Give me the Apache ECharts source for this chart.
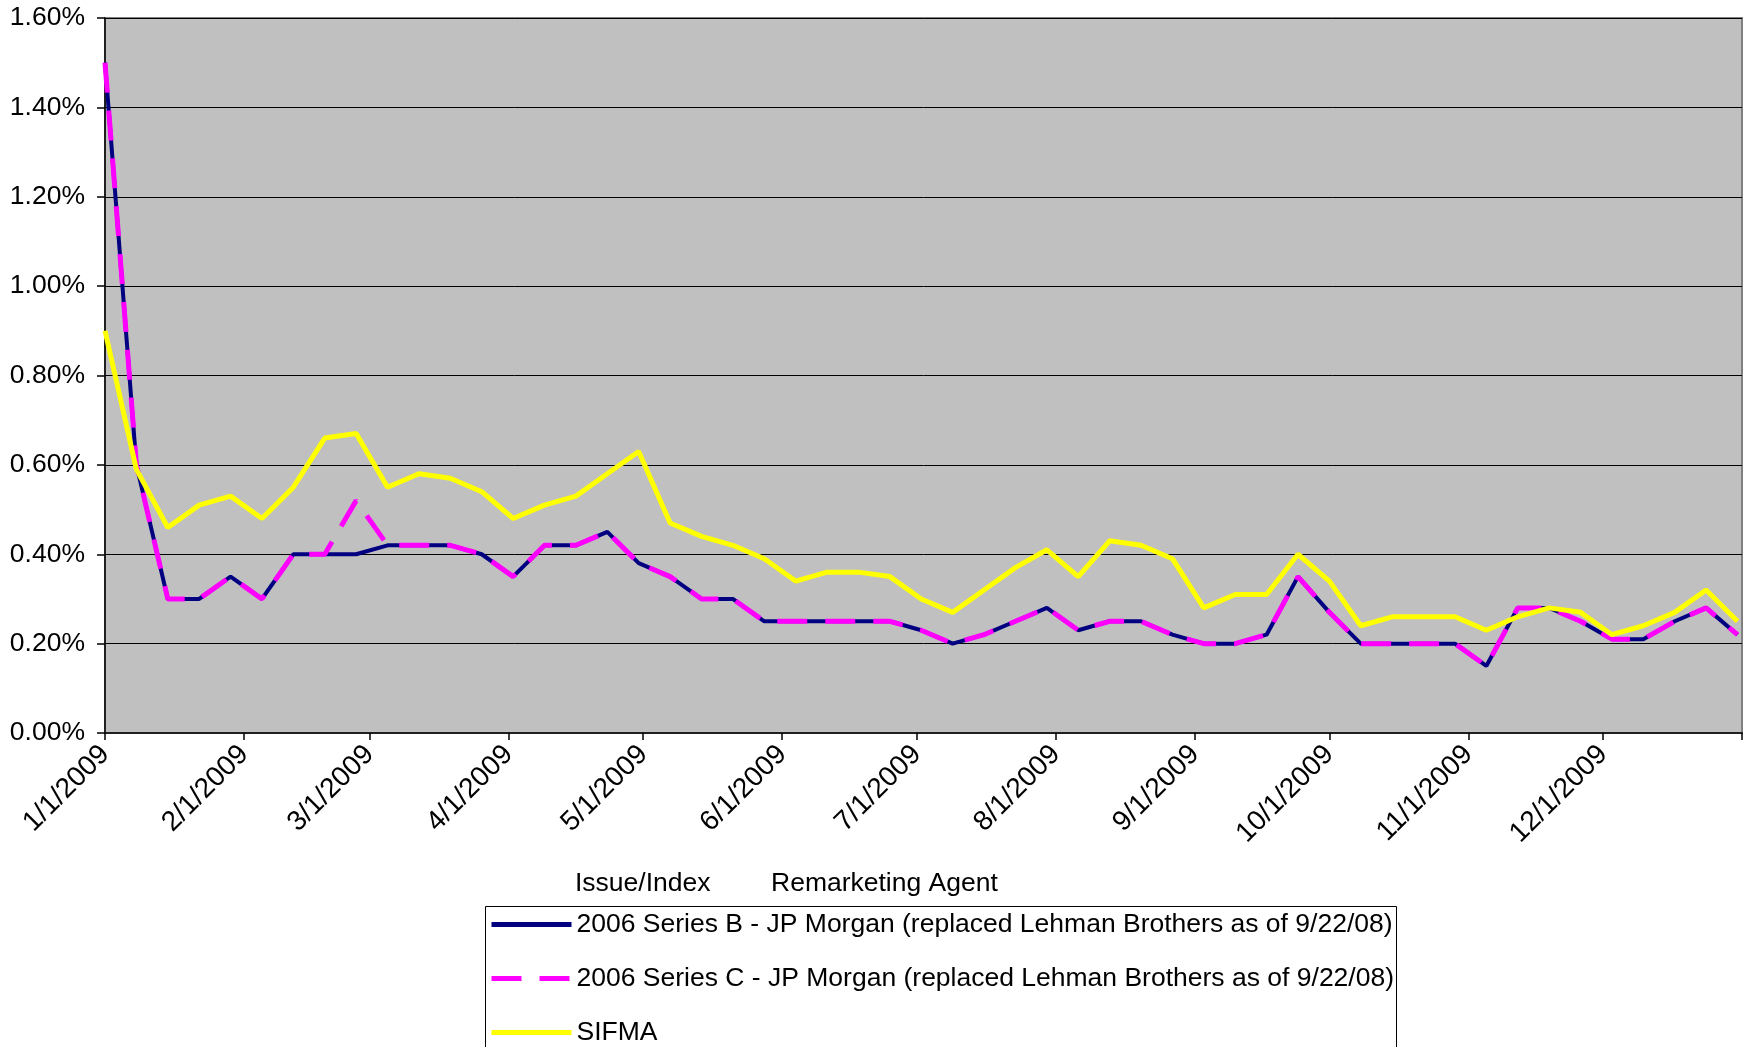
<!DOCTYPE html>
<html>
<head>
<meta charset="utf-8">
<title>Remarketing rates 2009</title>
<script src="https://cdn.jsdelivr.net/npm/echarts@6/dist/echarts.min.js"></script>
<style>
  html, body { margin: 0; padding: 0; background: #ffffff; }
  #main { width: 1745px; height: 1047px; }
</style>
</head>
<body>
<div id="main"></div>
<script>
// weekly reset dates (Thursdays), 2009
var dates = [
  "2009-01-01", "2009-01-08", "2009-01-15", "2009-01-22", "2009-01-29",
  "2009-02-05", "2009-02-12", "2009-02-19", "2009-02-26",
  "2009-03-05", "2009-03-12", "2009-03-19", "2009-03-26",
  "2009-04-02", "2009-04-09", "2009-04-16", "2009-04-23", "2009-04-30",
  "2009-05-07", "2009-05-14", "2009-05-21", "2009-05-28",
  "2009-06-04", "2009-06-11", "2009-06-18", "2009-06-25",
  "2009-07-02", "2009-07-09", "2009-07-16", "2009-07-23", "2009-07-30",
  "2009-08-06", "2009-08-13", "2009-08-20", "2009-08-27",
  "2009-09-03", "2009-09-10", "2009-09-17", "2009-09-24",
  "2009-10-01", "2009-10-08", "2009-10-15", "2009-10-22", "2009-10-29",
  "2009-11-05", "2009-11-12", "2009-11-19", "2009-11-26",
  "2009-12-03", "2009-12-10", "2009-12-17", "2009-12-24", "2009-12-31"
];

// rates in percent
var seriesB = [
  1.50, 0.60, 0.30, 0.30, 0.35,
  0.30, 0.40, 0.40, 0.40,
  0.42, 0.42, 0.42, 0.40,
  0.35, 0.42, 0.42, 0.45, 0.38,
  0.35, 0.30, 0.30, 0.25,
  0.25, 0.25, 0.25, 0.25,
  0.23, 0.20, 0.22, 0.25, 0.28,
  0.23, 0.25, 0.25, 0.22,
  0.20, 0.20, 0.22, 0.35,
  0.27, 0.20, 0.20, 0.20, 0.20,
  0.15, 0.28, 0.28, 0.25,
  0.21, 0.21, 0.25, 0.28, 0.22
];
var seriesC = [
  1.50, 0.60, 0.30, 0.30, 0.35,
  0.30, 0.40, 0.40, 0.52,
  0.42, 0.42, 0.42, 0.40,
  0.35, 0.42, 0.42, 0.45, 0.38,
  0.35, 0.30, 0.30, 0.25,
  0.25, 0.25, 0.25, 0.25,
  0.23, 0.20, 0.22, 0.25, 0.28,
  0.23, 0.25, 0.25, 0.22,
  0.20, 0.20, 0.22, 0.35,
  0.27, 0.20, 0.20, 0.20, 0.20,
  0.15, 0.28, 0.28, 0.25,
  0.21, 0.21, 0.25, 0.28, 0.22
];
var sifma = [
  0.90, 0.59, 0.46, 0.51, 0.53,
  0.48, 0.55, 0.66, 0.67,
  0.55, 0.58, 0.57, 0.54,
  0.48, 0.51, 0.53, 0.58, 0.63,
  0.47, 0.44, 0.42, 0.39,
  0.34, 0.36, 0.36, 0.35,
  0.30, 0.27, 0.32, 0.37, 0.41,
  0.35, 0.43, 0.42, 0.39,
  0.28, 0.31, 0.31, 0.40,
  0.34, 0.24, 0.26, 0.26, 0.26,
  0.23, 0.26, 0.28, 0.27,
  0.22, 0.24, 0.27, 0.32, 0.25
];

var seriesNames = [
  "2006 Series B - JP Morgan (replaced Lehman Brothers as of 9/22/08)",
  "2006 Series C - JP Morgan (replaced Lehman Brothers as of 9/22/08)",
  "SIFMA"
];

// x axis ticks on the first of each month; the axis ends on 1/1/2010 (tick, no label)
var monthStarts = [
  "2009-01-01", "2009-02-01", "2009-03-01", "2009-04-01", "2009-05-01", "2009-06-01",
  "2009-07-01", "2009-08-01", "2009-09-01", "2009-10-01", "2009-11-01", "2009-12-01"
];
var axisEnd = "2010-01-01";

var DAY = 86400000;
var base = Date.UTC(2009, 0, 1);
// x is "days since 1/1/2009"
function day(s) {
  var p = s.split("-");
  return Math.round((Date.UTC(+p[0], +p[1] - 1, +p[2]) - base) / DAY);
}
function pairs(vals) {
  return vals.map(function (v, i) { return [day(dates[i]), v]; });
}

var FONT = "'Liberation Sans', Arial, sans-serif";
var FS = 26.5;
var myChart = echarts.init(document.getElementById("main"));

myChart.setOption({
  animation: false,
  backgroundColor: "#ffffff",
  textStyle: { fontFamily: FONT, color: "#000" },
  grid: {
    left: 105,
    right: 3,
    top: 18,
    bottom: 314,
    show: true,
    backgroundColor: "#c0c0c0",
    borderColor: "#808080",
    borderWidth: 2,
    containLabel: false,
    outerBoundsMode: "none"
  },
  xAxis: {
    type: "value",
    min: 0,
    max: day(axisEnd),
    axisLine: { show: true, lineStyle: { color: "#202020", width: 2 } },
    axisTick: {
      show: true,
      length: 7,
      lineStyle: { color: "#000", width: 1.5 },
      customValues: monthStarts.concat([axisEnd]).map(day)
    },
    axisLabel: {
      customValues: monthStarts.map(day),
      rotate: 45,
      margin: 17,
      fontSize: 28,
      fontFamily: FONT,
      color: "#000",
      formatter: function (v) {
        var d = new Date(base + v * DAY);
        return (d.getUTCMonth() + 1) + "/" + d.getUTCDate() + "/" + d.getUTCFullYear();
      }
    },
    splitLine: { show: false }
  },
  yAxis: {
    type: "value",
    min: 0,
    max: 1.6,
    interval: 0.2,
    axisLine: { show: true, lineStyle: { color: "#000", width: 1.5 } },
    axisTick: { show: true, length: 8, lineStyle: { color: "#000", width: 1.5 } },
    axisLabel: {
      margin: 20,
      fontSize: FS,
      fontFamily: FONT,
      color: "#000",
      formatter: function (v) { return v.toFixed(2) + "%"; }
    },
    splitLine: { show: true, lineStyle: { color: "#000", width: 1 } }
  },
  legend: {
    orient: "vertical",
    left: 485,
    top: 906,
    height: 300,
    padding: [5, 8, 0, 4],
    itemWidth: 80,
    itemHeight: 14,
    itemGap: 27,
    itemStyle: { opacity: 0 },
    lineStyle: { width: 5 },
    data: seriesNames,
    textStyle: { fontSize: FS, lineHeight: 27, fontFamily: FONT, color: "#000" }
  },
  graphic: [
    {
      type: "rect",
      z: -1,
      shape: { x: 485.5, y: 906.5, width: 911, height: 200 },
      style: { fill: "#ffffff", stroke: "#000", lineWidth: 1 }
    },
    {
      type: "text",
      x: 575,
      y: 884,
      style: { text: "Issue/Index", font: FS + "px " + FONT, fill: "#000", verticalAlign: "middle" }
    },
    {
      type: "text",
      x: 771,
      y: 884,
      style: { text: "Remarketing Agent", font: FS + "px " + FONT, fill: "#000", verticalAlign: "middle" }
    }
  ],
  series: [
    {
      name: seriesNames[0],
      type: "line",
      symbol: "none",
      data: pairs(seriesB),
      lineStyle: { color: "#000080", width: 4 },
      itemStyle: { color: "#000080" }
    },
    {
      name: seriesNames[1],
      type: "line",
      symbol: "none",
      data: pairs(seriesC),
      lineStyle: { color: "#ff00ff", width: 5, type: [30, 18] },
      itemStyle: { color: "#ff00ff" }
    },
    {
      name: seriesNames[2],
      type: "line",
      symbol: "none",
      data: pairs(sifma),
      lineStyle: { color: "#ffff00", width: 5 },
      itemStyle: { color: "#ffff00" }
    }
  ]
});
</script>
</body>
</html>
